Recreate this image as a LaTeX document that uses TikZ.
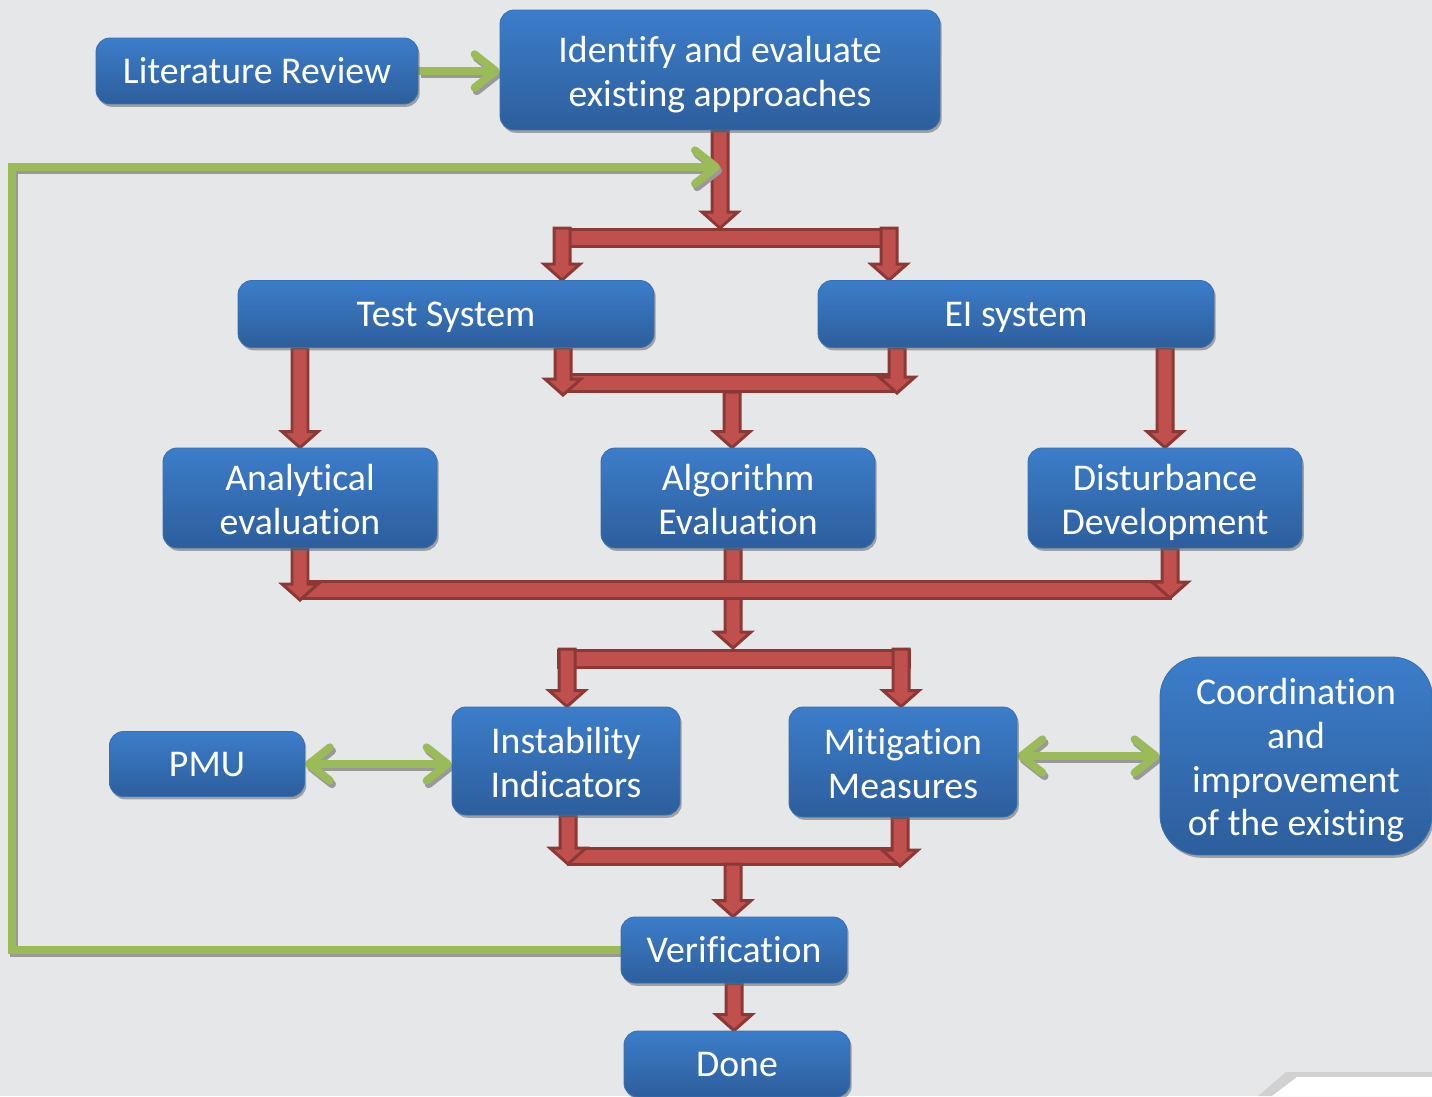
\documentclass[tikz,border=0pt]{standalone}
\usepackage{fontspec}
\setmainfont{Carlito}[Ligatures=NoCommon]
\usetikzlibrary{arrows.meta, shadows, calc, backgrounds, positioning}

\definecolor{pagegray}{HTML}{E6E7E9}
\definecolor{boxtop}{HTML}{3C7DCA}
\definecolor{boxbot}{HTML}{2D5E9C}
\definecolor{boxline}{HTML}{3A6FB0}
\definecolor{flowred}{HTML}{C0504D}
\definecolor{flowdark}{HTML}{8C3836}
\definecolor{loopgreen}{HTML}{9BBB59}

\newcommand{\redarrow}[2]{%
  \path[red arrow] let \p1=(#1), \p2=(#2) in
    (\x1-0.16cm,\y1) -- (\x1-0.16cm,\y2+0.32cm) -- (\x1-0.36cm,\y2+0.32cm) -- (\x1,\y2)
    -- (\x1+0.36cm,\y2+0.32cm) -- (\x1+0.16cm,\y2+0.32cm) -- (\x1+0.16cm,\y1) -- cycle;}

\newcommand{\greenlinks}{%
  \draw[green arrow, -chev] (lit.east) -- (lit.east -| ident.west);
  \draw[green arrow, chev-chev] (pmu.east) -- (pmu.east -| inst.west);
  \draw[green arrow, chev-chev] (coord.west -| miti.east) -- (coord.west);
  \draw[green arrow, -chev] (verif.west) -| (fb) -- (fb -| ident.south);}

\begin{document}
\begin{tikzpicture}[x=0.02cm, y=-0.02cm,
 flow box/.style={rounded corners=0.28cm, draw=boxline, line width=0.5pt,
   top color=boxtop, bottom color=boxbot, text=white, align=center, inner sep=0pt,
   font=\fontsize{21.5}{25}\selectfont, text height=20.7pt, text depth=6pt,
   drop shadow={shadow xshift=1pt, shadow yshift=-1.6pt, fill=black!60, opacity=0.55}},
 multi line/.style={text height=#1},
 red arrow/.style={fill=flowred, draw=flowdark, line width=1.7pt},
 chev/.tip={Straight Barb[length=12pt, width=19pt, line cap=round, line join=round]},
 green arrow/.style={draw=loopgreen, line width=4.5pt}]

  \useasboundingbox (0,0) rectangle (1432,1096);

  \node[flow box, multi line=47.5pt, minimum width=8.8cm, minimum height=2.4cm] (ident) at (720,70) {Identify and evaluate\\existing approaches};
  \node[flow box, minimum width=6.44cm, minimum height=1.32cm] (lit) at (257,71) {Literature Review};
  \node[flow box, minimum width=8.32cm, minimum height=1.34cm] (test) at (446,314) {Test System};
  \node[flow box, minimum width=7.92cm, minimum height=1.34cm] (ei) at (1016,314) {EI system};
  \node[flow box, multi line=47.5pt, minimum width=5.48cm, minimum height=2cm] (anal) at (300,498) {Analytical\\evaluation};
  \node[flow box, multi line=47.5pt, minimum width=5.48cm, minimum height=2cm] (algo) at (738,498) {Algorithm\\Evaluation};
  \node[flow box, multi line=47.5pt, minimum width=5.48cm, minimum height=2cm] (dist) at (1165,498) {Disturbance\\Development};
  \node[flow box, minimum width=3.9cm, minimum height=1.3cm] (pmu) at (207,764) {PMU};
  \node[flow box, multi line=47.5pt, minimum width=4.56cm, minimum height=2.16cm] (inst) at (566,761) {Instability\\Indicators};
  \node[flow box, multi line=47.5pt, minimum width=4.56cm, minimum height=2.2cm] (miti) at (903,762) {Mitigation\\Measures};
  \node[flow box, multi line=97pt, rounded corners=0.8cm, minimum width=5.44cm, minimum height=3.96cm] (coord) at (1296,756) {Coordination\\and\\improvement\\of the existing};
  \node[flow box, minimum width=4.52cm, minimum height=1.32cm] (verif) at (734,950) {Verification};
  \node[flow box, minimum width=4.52cm, minimum height=1.32cm] (done) at (737,1064) {Done};

  \coordinate (s1l) at (562,228); \coordinate (s1r) at (889,228);
  \coordinate (j2l) at (563,395); \coordinate (j2r) at (897,393); \coordinate (j2m) at (732,392);
  \coordinate (j3l) at (300,600); \coordinate (j3r) at (1170,598); \coordinate (j3m) at (733,590);
  \coordinate (s4l) at (567,649); \coordinate (s4r) at (901,649); \coordinate (s4m) at (733,648);
  \coordinate (j5l) at (568,864); \coordinate (j5r) at (900,866); \coordinate (j5m) at (733,864);
  \coordinate (fb) at (12,167);

  \begin{pgfonlayer}{background}
    \fill[pagegray] (0,0) rectangle (1432,1096);
    \fill[black!18] (1258,1096) -- (1286,1072) -- (1432,1072) -- (1432,1096) -- cycle;
    \fill[white] (1272,1096) -- (1297,1077) -- (1432,1077) -- (1432,1096) -- cycle;

    \redarrow{algo.south -| j3m}{s4m}
    \draw[red arrow] (554.5,229.5) rectangle (896.5,246.5);
    \draw[red arrow] (563,374.5) rectangle (897,391.5);
    \draw[red arrow] (300,581.5) rectangle (1170,598.5);
    \draw[red arrow] (558.5,650.5) rectangle (909.5,667.5);
    \draw[red arrow] (568,848.5) rectangle (900,864.5);

    \redarrow{ident.south}{ident.south |- s1l}
    \redarrow{s1l}{test.north}
    \redarrow{s1r}{ei.north}
    \redarrow{test.south -| j2l}{j2l}
    \redarrow{ei.south -| j2r}{j2r}
    \redarrow{j2m}{algo.north}
    \redarrow{test.south -| anal.north}{anal.north}
    \redarrow{ei.south -| dist.north}{dist.north}
    \redarrow{anal.south}{j3l}
    \redarrow{dist.south -| j3r}{j3r}
    \redarrow{s4l}{inst.north}
    \redarrow{s4r}{miti.north}
    \redarrow{inst.south -| j5l}{j5l}
    \redarrow{miti.south -| j5r}{j5r}
    \redarrow{j5m}{verif.north}
    \redarrow{verif.south}{done.north}

    \begin{scope}[transform canvas={shift={(1.2pt,-2pt)}}, green arrow/.append style={draw=black!40}]
      \greenlinks
    \end{scope}
    \greenlinks
  \end{pgfonlayer}

\end{tikzpicture}
\end{document}
